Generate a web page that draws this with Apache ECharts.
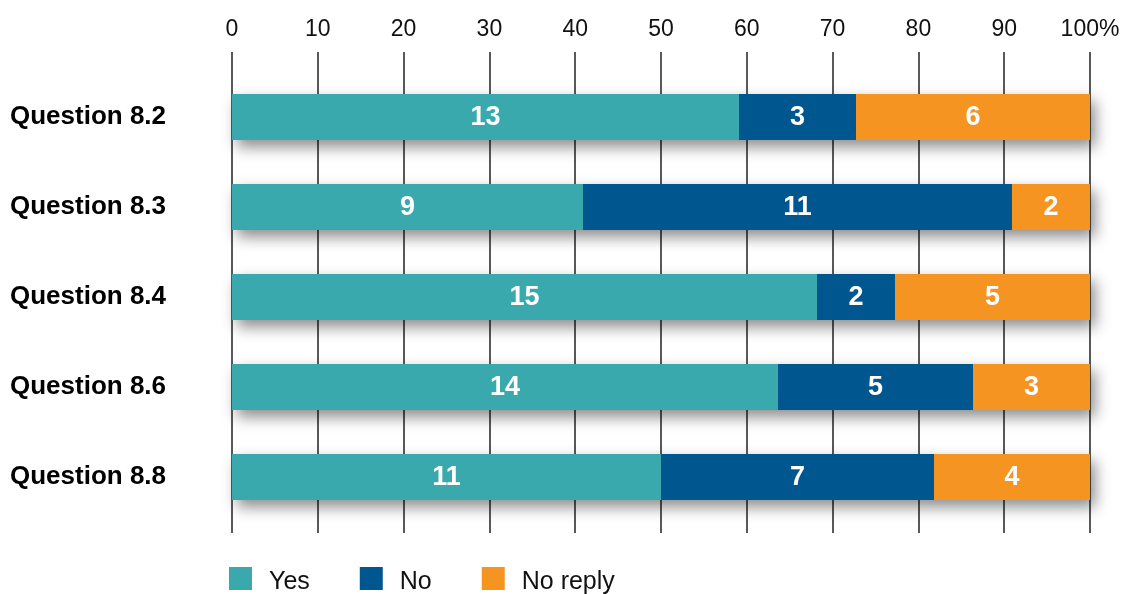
<!DOCTYPE html>
<html><head><meta charset="utf-8">
<script src="https://cdn.jsdelivr.net/npm/echarts@6/dist/echarts.min.js"></script>
<style>html,body{margin:0;padding:0;background:#fff;overflow:hidden}#c{width:1125px;height:594px}</style>
</head><body><div id="c"></div>
<script>
const categories = ['Question 8.2','Question 8.3','Question 8.4','Question 8.6','Question 8.8'];
const yesCounts = [13, 9, 15, 14, 11];
const noCounts = [3, 11, 2, 5, 7];
const noReplyCounts = [6, 2, 5, 3, 4];
const xTicks = [0,10,20,30,40,50,60,70,80,90,100];

const totals = categories.map((_, i) => yesCounts[i] + noCounts[i] + noReplyCounts[i]);
const pct = arr => arr.map((v, i) => ({ value: v / totals[i] * 100, count: v }));

const FONT = '"Liberation Sans", Arial, sans-serif';
const colors = { yes: '#3aa9ad', no: '#00568f', nr: '#f59421' };

const labelCfg = {
  show: true, position: 'inside', color: '#fff', fontFamily: FONT,
  fontWeight: 'bold', fontSize: 27, offset: [0, 1], formatter: p => p.data.count
};

const chart = echarts.init(document.getElementById('c'));
chart.setOption({
  animation: false,
  backgroundColor: '#fff',
  grid: [
    { left: 232, right: 35, top: 52, bottom: 61 },
    { left: 232, right: 35, top: 72, bottom: 72 }
  ],
  xAxis: [
    { gridIndex: 0, type: 'value', position: 'top', min: 0, max: 100, interval: 10,
      axisLine: { show: false }, axisTick: { show: false },
      splitLine: { show: true, lineStyle: { color: '#222', width: 1.5 } },
      axisLabel: { color: '#111', fontFamily: FONT, fontSize: 23, margin: 11,
        formatter: v => (v === 100 ? '100%' : String(v)) } },
    { gridIndex: 1, type: 'value', min: 0, max: 100, show: false }
  ],
  yAxis: [
    { gridIndex: 0, type: 'category', data: categories, show: false },
    { gridIndex: 1, type: 'category', data: categories, inverse: true,
      axisLine: { show: false }, axisTick: { show: false }, splitLine: { show: false },
      axisLabel: { align: 'left', margin: 222, color: '#000', fontFamily: FONT,
        fontWeight: 'bold', fontSize: 26, padding: [3, 0, 0, 0] } }
  ],
  legend: {
    data: ['Yes', 'No', 'No reply'], left: 224, top: 562, icon: 'rect',
    itemWidth: 23, itemHeight: 23, itemGap: 50,
    formatter: name => '{t|' + name + '}',
    textStyle: { fontFamily: FONT, fontSize: 25, color: '#111', padding: [0, 0, 0, 12],
      rich: { t: { fontFamily: FONT, fontSize: 25, color: '#111', padding: [7, 0, 0, 0] } } }
  },
  series: [
    { name: 'shadow', type: 'bar', xAxisIndex: 1, yAxisIndex: 1, barWidth: 46, barGap: '-100%',
      data: categories.map(() => 100), silent: true, z: 1,
      itemStyle: { color: '#fff', shadowBlur: 14, shadowOffsetX: 5, shadowOffsetY: 7,
        shadowColor: 'rgba(0,0,0,0.45)' } },
    { name: 'Yes', type: 'bar', stack: 'total', xAxisIndex: 1, yAxisIndex: 1, barWidth: 46, z: 3,
      data: pct(yesCounts), itemStyle: { color: colors.yes }, label: labelCfg },
    { name: 'No', type: 'bar', stack: 'total', xAxisIndex: 1, yAxisIndex: 1, barWidth: 46, z: 3,
      data: pct(noCounts), itemStyle: { color: colors.no }, label: labelCfg },
    { name: 'No reply', type: 'bar', stack: 'total', xAxisIndex: 1, yAxisIndex: 1, barWidth: 46, z: 3,
      data: pct(noReplyCounts), itemStyle: { color: colors.nr }, label: labelCfg }
  ]
});
</script></body></html>
